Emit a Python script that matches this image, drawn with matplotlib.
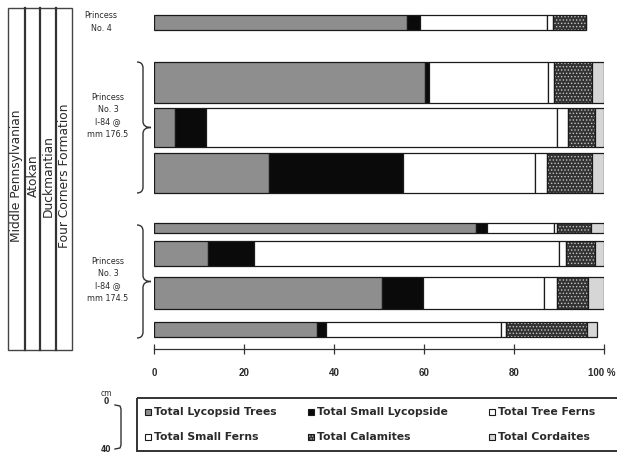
import matplotlib
matplotlib.use("Agg")
import matplotlib.pyplot as plt
from matplotlib.patches import Rectangle, PathPatch
from matplotlib.path import Path

plt.rcParams['font.family'] = ['Liberation Sans', 'DejaVu Sans']
plt.rcParams['hatch.linewidth'] = 0.6

# ---- data -------------------------------------------------------------
categories = ["Total Lycopsid Trees", "Total Small Lycopside", "Total Tree Ferns",
              "Total Small Ferns", "Total Calamites", "Total Cordaites"]

# one value per coal bench, listed top to bottom (percent of the bench)
lycopsid_trees = [56.2, 60.2, 4.7, 25.6, 71.5, 12.0, 50.7, 36.2]
small_lycopsid = [2.9, 1.0, 6.9, 29.8, 2.5, 10.2, 9.1, 2.0]
tree_ferns     = [28.2, 26.4, 78.0, 29.3, 14.9, 67.8, 26.9, 38.9]
small_ferns    = [1.3, 1.3, 2.4, 2.7, 0.7, 1.5, 2.9, 1.1]
calamites      = [7.5, 8.4, 6.0, 10.0, 7.4, 6.5, 6.9, 18.0]
cordaites      = [0.0, 2.7, 2.0, 2.6, 3.0, 2.0, 3.5, 2.2]

# bench thickness in cm (drawn as bar height)
thickness_cm = [14, 37, 35, 36, 9, 23, 29, 14]

tick_values = [0, 20, 40, 60, 80, 100]
tick_labels = ["0", "20", "40", "60", "80", "100 %"]

section_labels = ["Princess\nNo. 4",
                  "Princess\nNo. 3\nI-84 @\nmm 176.5",
                  "Princess\nNo. 3\nI-84 @\nmm 174.5"]
strat_labels = ["Middle Pennsylvanian", "Atokan", "Duckmantian", "Four Corners Formation"]

# ---- layout (pixels) --------------------------------------------------
W, H = 617, 454
PX_PER_CM = 1.1
bar_tops = [15, 62, 108, 153, 223, 241, 277, 322]
AXIS_Y = 349
X0, X1 = 154, 604

styles = [
    dict(facecolor="#8e8e8e"),
    dict(facecolor="#0a0a0a"),
    dict(facecolor="white"),
    dict(facecolor="white"),
    dict(facecolor="#333333", hatch="....."),
    dict(facecolor="#d6d6d6"),
]
EDGE = "#1a1a1a"
TXT = "#2a2a2a"
WIDE = ['DejaVu Sans']

fig = plt.figure(figsize=(W / 100, H / 100), dpi=100)
fig.patch.set_facecolor("white")

# full-figure overlay in pixel units
ov = fig.add_axes([0, 0, 1, 1])
ov.set_xlim(0, W)
ov.set_ylim(H, 0)
ov.axis("off")

# ---- bars -------------------------------------------------------------
ax = fig.add_axes([X0 / W, (H - AXIS_Y) / H, (X1 - X0) / W, AXIS_Y / H])
ax.set_xlim(0, 100)
ax.set_ylim(AXIS_Y, 0)
ax.patch.set_alpha(0)
for s in ("top", "left", "right"):
    ax.spines[s].set_visible(False)
ax.spines["bottom"].set_color("#333333")
ax.spines["bottom"].set_linewidth(0.9)
ax.set_yticks([])
ax.set_xticks(tick_values)
ax.set_xticklabels(tick_labels, fontsize=7, fontweight="bold", color=TXT)
ax.tick_params(axis="x", direction="inout", length=7, width=0.9, color="#333333", pad=10)
ax.get_xticklabels()[-1].set_horizontalalignment("right")
ax.get_xticklabels()[-1].set_x(100.0)
for lbl in ax.get_xticklabels()[-1:]:
    lbl.set_ha("center")
# keep the last label inside the canvas
import matplotlib.transforms as mtransforms
ax.get_xticklabels()[-1].set_transform(
    ax.get_xticklabels()[-1].get_transform()
    + mtransforms.ScaledTranslation(-2 / 100, 0, fig.dpi_scale_trans))

heights = [t * PX_PER_CM for t in thickness_cm]
series = [lycopsid_trees, small_lycopsid, tree_ferns, small_ferns, calamites, cordaites]
lefts = [0.0] * len(bar_tops)
for vals, st in zip(series, styles):
    if "hatch" in st:
        ax.barh(bar_tops, vals, left=lefts, height=heights, align="edge",
                facecolor=st["facecolor"], edgecolor="#c4c4c4", hatch=st["hatch"], linewidth=0)
        ax.barh(bar_tops, vals, left=lefts, height=heights, align="edge",
                fill=False, edgecolor=EDGE, linewidth=0.9)
    else:
        ax.barh(bar_tops, vals, left=lefts, height=heights, align="edge",
                facecolor=st["facecolor"], edgecolor=EDGE, linewidth=0.9)
    lefts = [l + v for l, v in zip(lefts, vals)]

# ---- stratigraphic column --------------------------------------------
col_edges = [8, 25, 40, 56, 72]
ov.add_patch(Rectangle((col_edges[0], 8), col_edges[-1] - col_edges[0], 342,
                       fill=False, edgecolor="#444444", linewidth=1.0))
for x in col_edges[1:-1]:
    ov.plot([x, x], [8, 350], color="#333333", linewidth=1.6)
for i, lab in enumerate(strat_labels):
    xc = (col_edges[i] + col_edges[i + 1]) / 2
    ov.text(xc + 0.5, 176, lab, rotation=90, ha="center", va="center",
            fontsize=8.8, color=TXT, family=WIDE)


# ---- section labels and braces -----------------------------------------
def brace(y_top, y_bot, x_end=137, x_body=143, x_tip=151):
    ym = (y_top + y_bot) / 2
    r = 6
    verts = [(x_end, y_top), (x_body, y_top), (x_body, y_top + r),
             (x_body, ym - r),
             (x_body, ym), (x_tip, ym),
             (x_body, ym), (x_body, ym + r),
             (x_body, y_bot - r),
             (x_body, y_bot), (x_end, y_bot)]
    codes = [Path.MOVETO, Path.CURVE3, Path.CURVE3,
             Path.LINETO,
             Path.CURVE3, Path.CURVE3,
             Path.CURVE3, Path.CURVE3,
             Path.LINETO,
             Path.CURVE3, Path.CURVE3]
    ov.add_patch(PathPatch(Path(verts, codes), fill=False, edgecolor="#333333", linewidth=1.0))


brace(62, 193)
brace(225, 338)

lab_kw = dict(ha="center", va="center", fontsize=5.8, color=TXT, family=WIDE, linespacing=1.45)
ov.text(101, 22, section_labels[0], **lab_kw)
ov.text(108, 116, section_labels[1], **lab_kw)
ov.text(108, 280, section_labels[2], **lab_kw)

# ---- thickness scale ----------------------------------------------------
ov.text(106, 393, "cm", ha="center", va="center", fontsize=5.5, color=TXT, family=WIDE)
ov.text(106, 402, "0", ha="center", va="center", fontsize=5.5, fontweight="bold", color=TXT, family=WIDE)
ov.text(106, 449, "40", ha="center", va="center", fontsize=5.5, fontweight="bold", color=TXT, family=WIDE)
sb_top, sb_bot = 405, 405 + 40 * PX_PER_CM
ov.plot([115, 120, 121, 121, 120, 115],
        [sb_top, sb_top + 1, sb_top + 4, sb_bot - 4, sb_bot - 1, sb_bot],
        color="#333333", linewidth=1.0)

# ---- legend -------------------------------------------------------------
ov.add_patch(Rectangle((137, 398), 500, 53, fill=False, edgecolor="#333333", linewidth=1.4))
leg_cols = [148, 311, 492]
leg_rows = [412, 437]
for k, (name, st) in enumerate(zip(categories, styles)):
    xm = leg_cols[k % 3]
    ym = leg_rows[k // 3]
    if "hatch" in st:
        ov.add_patch(Rectangle((xm - 3, ym - 3), 6, 6, facecolor=st["facecolor"],
                               edgecolor="#c4c4c4", hatch="......", linewidth=0))
        ov.add_patch(Rectangle((xm - 3, ym - 3), 6, 6, fill=False, edgecolor=EDGE, linewidth=0.8))
    else:
        ov.add_patch(Rectangle((xm - 3, ym - 3), 6, 6, facecolor=st["facecolor"],
                               edgecolor=EDGE, linewidth=0.8))
    ov.text(xm + 6, ym, name, ha="left", va="center", fontsize=7.8,
            fontweight="bold", color=TXT, family=WIDE)

fig.savefig("out.png", dpi=100, facecolor="white")
